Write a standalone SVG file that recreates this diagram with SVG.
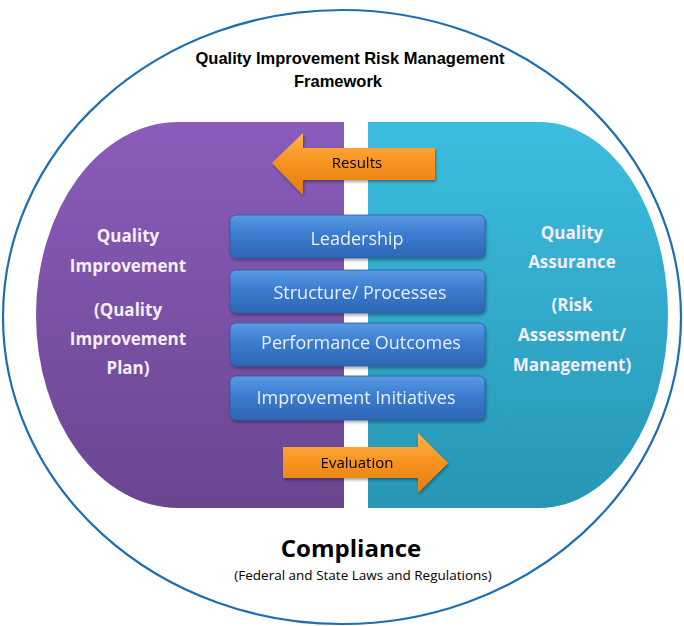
<svg xmlns="http://www.w3.org/2000/svg" width="684" height="626" viewBox="0 0 684 626">
<defs>
<linearGradient id="gPurple" x1="0" y1="0" x2="0" y2="1"><stop offset="0" stop-color="#8a5cbc"/><stop offset="1" stop-color="#6a468f"/></linearGradient>
<linearGradient id="gTeal" x1="0" y1="0" x2="0" y2="1"><stop offset="0" stop-color="#3cbde0"/><stop offset="1" stop-color="#2796b4"/></linearGradient>
<linearGradient id="gBlue" x1="0" y1="0" x2="0" y2="1"><stop offset="0" stop-color="#5a9ae2"/><stop offset="0.45" stop-color="#3b7cd0"/><stop offset="1" stop-color="#2e66b4"/></linearGradient>
<linearGradient id="gOrange" x1="0" y1="0" x2="0" y2="1"><stop offset="0" stop-color="#ffb24a"/><stop offset="0.5" stop-color="#f7931e"/><stop offset="1" stop-color="#e07d10"/></linearGradient>
<filter id="sh" x="-10%" y="-20%" width="120%" height="150%"><feDropShadow dx="1" dy="2" stdDeviation="1.5" flood-color="#000" flood-opacity="0.35"/></filter>
</defs>
<style>
.t{font-family:"Liberation Sans",Arial,sans-serif;font-weight:bold;fill:#000;text-anchor:middle}
.w{font-family:"Open Sans","Liberation Sans",sans-serif;font-weight:bold;font-size:17px;fill:#f4eefa;text-anchor:middle}
.b{font-family:"Open Sans","Liberation Sans",sans-serif;font-size:18px;fill:#e8f0fb;text-anchor:middle}
.o{font-family:"Open Sans","Liberation Sans",sans-serif;font-size:15px;fill:#000;text-anchor:middle}
.box{fill:url(#gBlue);stroke:#2a5ea6;stroke-width:0.8}
</style>
<rect width="684" height="626" fill="#fff"/>
<g id="circle"><ellipse cx="342" cy="317" rx="339" ry="307" fill="none" stroke="#1f6fb0" stroke-width="2.2"/></g>
<g id="title">
<text class="t" x="350" y="64" font-size="16.5">Quality Improvement Risk Management</text>
<text class="t" x="338" y="87" font-size="16.5">Framework</text>
</g>
<g id="qi">
<path d="M344 122 L178 122 A142 193 0 0 0 36 315 A142 193 0 0 0 178 508 L344 508 Z" fill="url(#gPurple)"/>
<text class="w" x="128" y="242">Quality</text>
<text class="w" x="128" y="272">Improvement</text>
<text class="w" x="128" y="316">(Quality</text>
<text class="w" x="128" y="345">Improvement</text>
<text class="w" x="128" y="374">Plan)</text>
</g>
<g id="qa">
<path d="M368 122 L540 122 A128 193 0 0 1 668 315 A128 193 0 0 1 540 508 L368 508 Z" fill="url(#gTeal)"/>
<text class="w" x="572" y="239">Quality</text>
<text class="w" x="572" y="268">Assurance</text>
<text class="w" x="572" y="311">(Risk</text>
<text class="w" x="572" y="341">Assessment/</text>
<text class="w" x="572" y="371">Management)</text>
</g>
<g id="connectors">
<g id="results" filter="url(#sh)">
<path d="M272 163 L303 133 L303 148 L435 148 L435 180 L303 180 L303 195 Z" fill="url(#gOrange)"/>
<text class="o" x="357" y="168">Results</text>
</g>
<g id="evaluation" filter="url(#sh)">
<path d="M283 447 L418 447 L418 433 L448 463 L418 493 L418 478 L283 478 Z" fill="url(#gOrange)"/>
<text class="o" x="357" y="468">Evaluation</text>
</g>
</g>
<g id="leadership" filter="url(#sh)"><rect class="box" x="230" y="215" width="255" height="43" rx="6"/><text class="b" x="357" y="245">Leadership</text></g>
<g id="structure" filter="url(#sh)"><rect class="box" x="230" y="270" width="255" height="43" rx="6"/><text class="b" x="360" y="299">Structure/ Processes</text></g>
<g id="performance" filter="url(#sh)"><rect class="box" x="230" y="323" width="255" height="43" rx="6"/><text class="b" x="361" y="349">Performance  Outcomes</text></g>
<g id="initiatives" filter="url(#sh)"><rect class="box" x="230" y="376" width="255" height="44" rx="6"/><text class="b" x="356" y="404">Improvement Initiatives</text></g>
<g id="compliance">
<text class="t" x="351" y="557" font-size="24" style="font-family:'Open Sans','Liberation Sans',sans-serif">Compliance</text>
<text x="363" y="580" font-size="13.5" text-anchor="middle" font-family="'Open Sans','Liberation Sans',sans-serif" fill="#000">(Federal and State Laws and Regulations)</text>
</g>
</svg>
